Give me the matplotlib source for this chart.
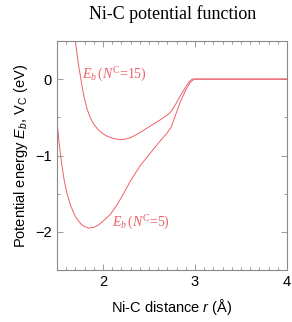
import matplotlib
matplotlib.use("Agg")
import matplotlib.pyplot as plt
from matplotlib.ticker import MultipleLocator

# values
r_nc15 = [1.70, 1.73, 1.76, 1.78, 1.80, 1.83, 1.86, 1.90, 1.95, 2.00, 2.05, 2.10, 2.15, 2.20,
          2.25, 2.30, 2.35, 2.40, 2.50, 2.62, 2.70, 2.74, 2.78, 2.84, 2.90, 2.94, 2.97, 3.0, 4.0]
e_nc15 = [0.50, 0.22, 0.00, -0.14, -0.26, -0.40, -0.50, -0.59, -0.665, -0.715, -0.75, -0.772, -0.786, -0.79,
          -0.784, -0.765, -0.735, -0.70, -0.625, -0.535, -0.47, -0.425, -0.35, -0.22, -0.10, -0.03, 0.0, 0.0, 0.0]

r_nc5 = [1.50, 1.52, 1.55, 1.58, 1.61, 1.65, 1.70, 1.76, 1.80, 1.85, 1.90, 1.95, 2.00, 2.08,
         2.15, 2.20, 2.30, 2.40, 2.50, 2.60, 2.70, 2.74, 2.78, 2.84, 2.90, 2.95, 2.98, 3.0, 4.0]
e_nc5 = [-0.53, -0.80, -1.10, -1.33, -1.50, -1.66, -1.80, -1.895, -1.93, -1.95, -1.94, -1.91, -1.86, -1.77,
         -1.65, -1.55, -1.33, -1.14, -0.99, -0.84, -0.70, -0.63, -0.50, -0.30, -0.14, -0.04, -0.01, 0.0, 0.0]

label_15 = r"$E_b\,(N^{\rm C}$=15)"
label_5 = r"$E_b\,(N^{\rm C}$=5)"

plt.rcParams["font.family"] = "Liberation Sans"
plt.rcParams["mathtext.fontset"] = "custom"
plt.rcParams["mathtext.rm"] = "Liberation Serif"
plt.rcParams["mathtext.it"] = "Liberation Serif:italic"
plt.rcParams["mathtext.sf"] = "Liberation Sans"
plt.rcParams["mathtext.bf"] = "Liberation Sans:italic"

line_color = "#ec6068"
frame_color = "#8a8a8a"

fig = plt.figure(figsize=(2.92, 3.22), dpi=100)
ax = fig.add_axes([0.195, 0.161, 0.788, 0.712])

ax.plot(r_nc15, e_nc15, color=line_color, lw=0.7)
ax.plot(r_nc5, e_nc5, color=line_color, lw=0.7)

ax.text(1.77, 0.06, label_15, color=line_color, fontsize=10,
        family="Liberation Serif", va="center")
ax.text(2.10, -1.88, label_5, color=line_color, fontsize=10,
        family="Liberation Serif", va="center")

ax.set_xlim(1.5, 4)
ax.set_ylim(-2.5, 0.5)
ax.xaxis.set_major_locator(MultipleLocator(1))
ax.xaxis.set_minor_locator(MultipleLocator(0.1))
ax.yaxis.set_major_locator(MultipleLocator(1))
ax.yaxis.set_minor_locator(MultipleLocator(0.5))
ax.set_yticks([0, -1, -2])
ax.set_yticklabels(["0", "\u22121", "\u22122"])

ax.tick_params(which="both", direction="in", top=True, right=True,
               color=frame_color, labelsize=10.5, width=0.6)
ax.tick_params(which="major", length=4)
ax.tick_params(which="minor", length=2)
for s in ax.spines.values():
    s.set_color(frame_color)
    s.set_linewidth(0.8)

ax.set_xlabel(r"Ni-C distance $\mathbf{r}$ (Å)", fontsize=10.5, labelpad=6)
ax.set_ylabel(r"Potential energy $\mathbf{E_b}$, $\mathsf{V_C}$ (eV)", fontsize=10.5, labelpad=4)
fig.text(0.59, 0.955, "Ni-C potential function", family="Liberation Serif",
         fontsize=13, ha="center", va="center")

fig.savefig("out.png", dpi=100)
